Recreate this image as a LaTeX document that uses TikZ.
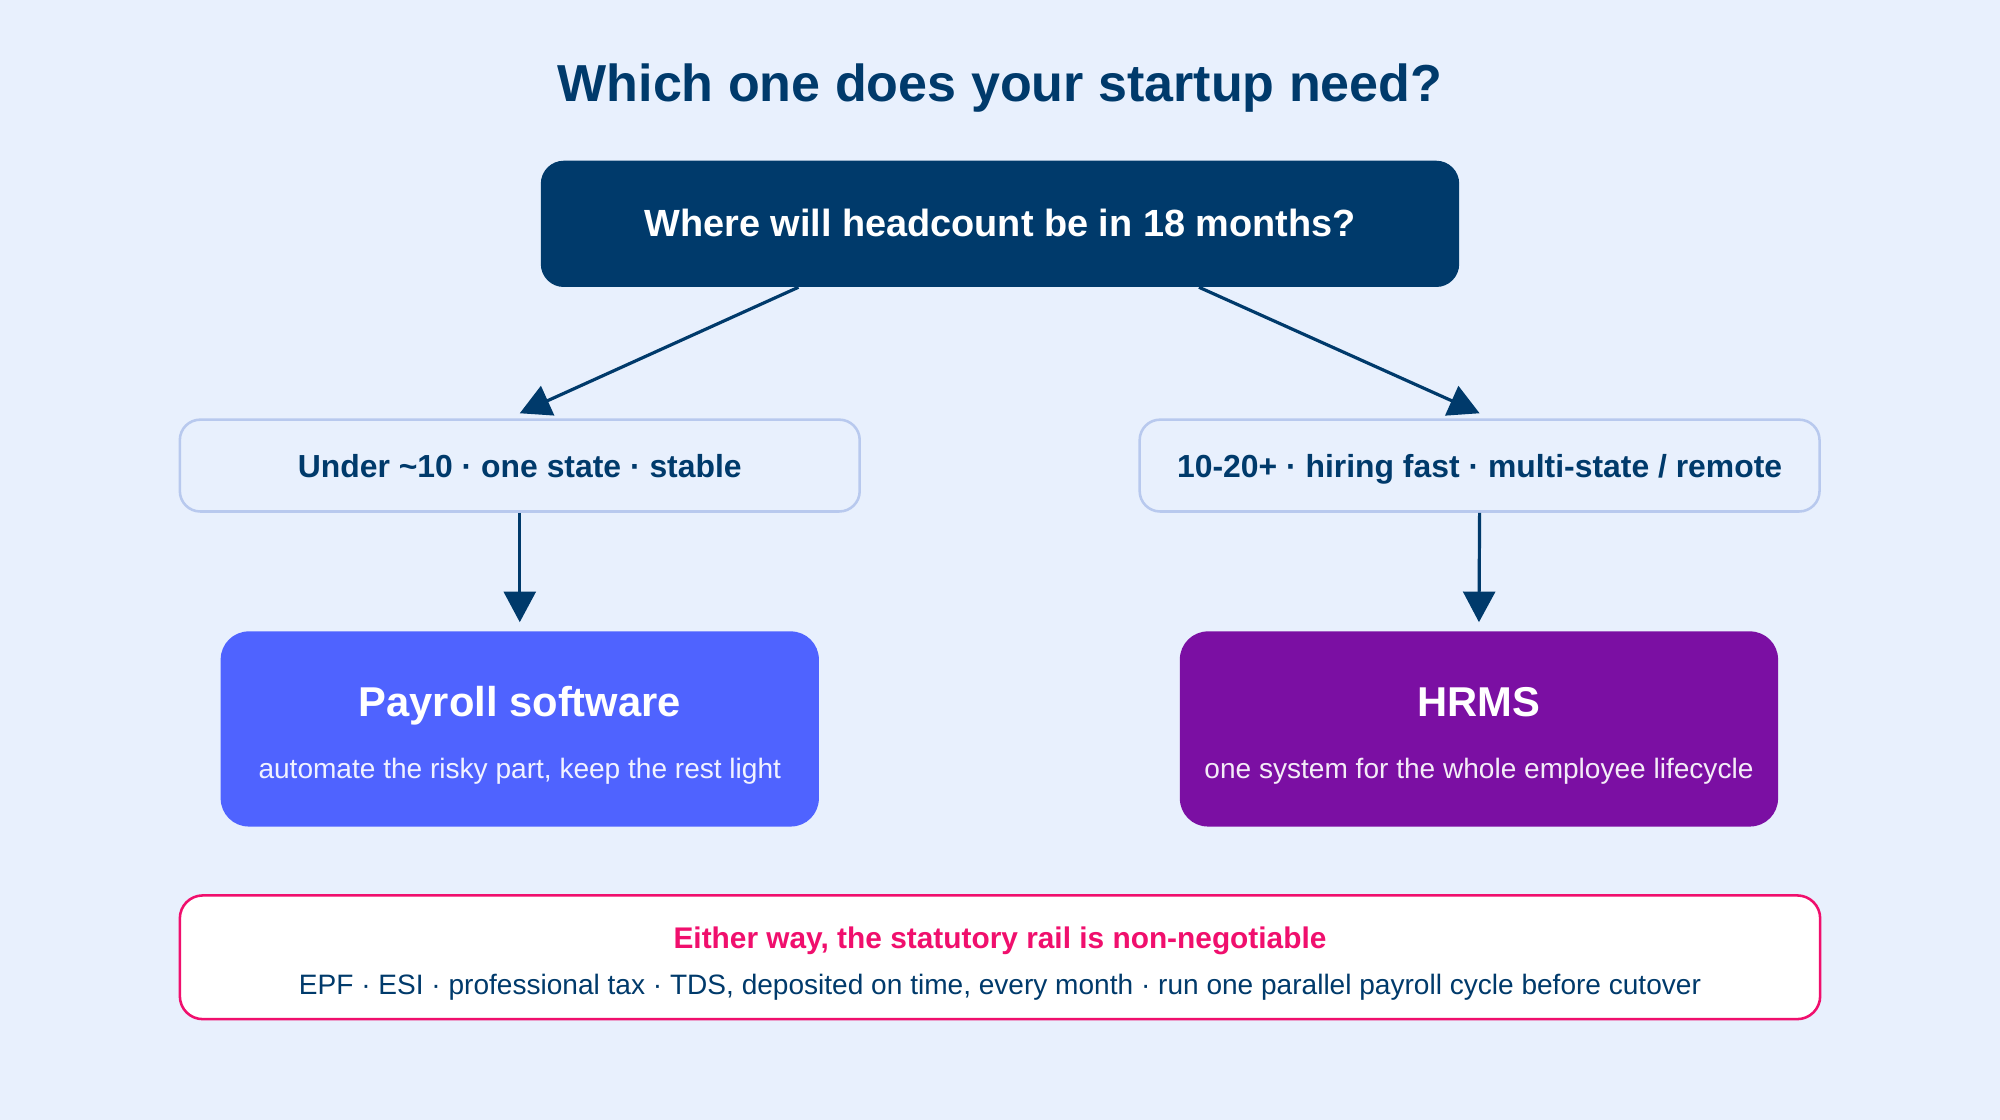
\documentclass[tikz,border=0pt]{standalone}
\usepackage{fontspec}
\setmainfont{Liberation Sans}
\usetikzlibrary{arrows.meta}
\definecolor{bg}{HTML}{E8F0FD}
\definecolor{navy}{HTML}{003A6B}
\definecolor{midline}{HTML}{B8C9EE}
\definecolor{payblue}{HTML}{4F63FF}
\definecolor{hrpurple}{HTML}{7B0FA3}
\definecolor{rail}{HTML}{F00F6D}
\begin{document}
\begin{tikzpicture}[x=1pt,y=-1pt,
  panel/.style={rectangle, inner sep=0pt},
  topbox/.style={panel, fill=navy, minimum width=720pt, minimum height=99pt, rounded corners=18pt},
  midbox/.style={panel, fill=bg, draw=midline, line width=2pt, minimum width=533pt, minimum height=72pt, rounded corners=16pt},
  endbox/.style={panel, minimum width=469pt, minimum height=153pt, rounded corners=22pt},
  railbox/.style={panel, fill=white, draw=rail, line width=2pt, minimum width=1286pt, minimum height=97pt, rounded corners=18pt},
  txt/.style={anchor=base, inner sep=0pt},
  arr/.style={draw=navy, line width=2.5pt, -{Triangle[length=24pt,width=25pt]}}
]
\fill[bg] (0,0) rectangle (1568,878);
\useasboundingbox (0,0) rectangle (1568,878);

\node[txt, text=navy, font=\fontsize{40.8}{48}\selectfont\bfseries] (title) at (784,79.6) {Which one does your startup need?};

\node[topbox] (q) at (784,175.5) {};
\node[txt, text=white, font=\fontsize{29.7}{35}\selectfont\bfseries] (qt) at (784,185.6) {Where will headcount be in 18 months?};

\node[midbox] (lmid) at (407.5,365) {};
\node[txt, text=navy, font=\fontsize{25}{30}\selectfont\bfseries] (lmidt) at (407.5,374.5) {Under \textasciitilde10 · one state · stable};
\node[midbox] (rmid) at (1160,365) {};
\node[txt, text=navy, font=\fontsize{25}{30}\selectfont\bfseries] (rmidt) at (1160,374.5) {10-20+ · hiring fast · multi-state / remote};

\node[endbox, fill=payblue] (pay) at (407.5,571.5) {};
\node[txt, text=white, font=\fontsize{32.7}{38}\selectfont\bfseries] (payt) at (407.5,561.8) {Payroll software};
\node[txt, text=white, opacity=0.92, font=\fontsize{22}{26}\selectfont] (pays) at (407.5,610) {automate the risky part, keep the rest light};

\node[endbox, fill=hrpurple] (hr) at (1159.5,571.5) {};
\node[txt, text=white, font=\fontsize{32.7}{38}\selectfont\bfseries] (hrt) at (1159.5,561.8) {HRMS};
\node[txt, text=white, opacity=0.92, font=\fontsize{22}{26}\selectfont] (hrs) at (1159.5,610) {one system for the whole employee lifecycle};

\node[railbox] (rail) at (784,750.5) {};
\node[txt, text=rail, font=\fontsize{23.4}{28}\selectfont\bfseries] (railt) at (784,743.4) {Either way, the statutory rail is non-negotiable};
\node[txt, text=navy, font=\fontsize{22}{26}\selectfont] (rails) at (784,780) {EPF · ESI · professional tax · TDS, deposited on time, every month · run one parallel payroll cycle before cutover};

\draw[arr] ([xshift=-158pt]q.south) -- ([yshift=4pt]lmid.north);
\draw[arr] ([xshift=156pt]q.south) -- ([yshift=4pt]rmid.north);
\draw[arr] (lmid.south) -- ([yshift=7pt]pay.north);
\draw[arr] (rmid.south) -- ([yshift=7pt]hr.north);
\end{tikzpicture}
\end{document}
